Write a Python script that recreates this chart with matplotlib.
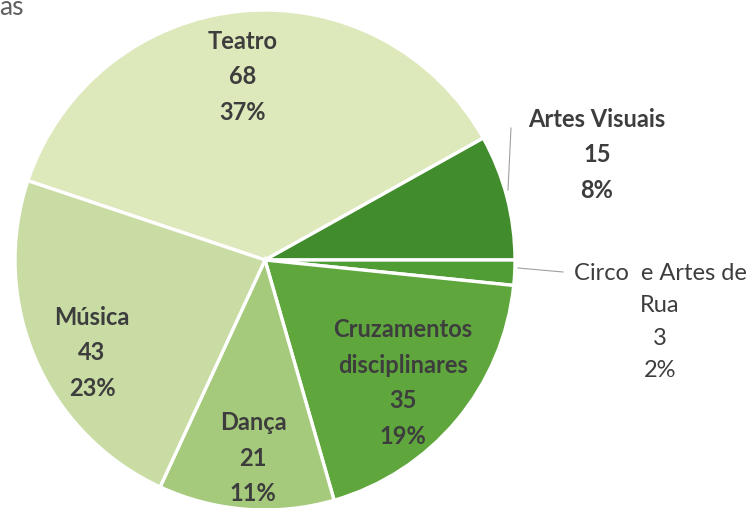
import matplotlib
matplotlib.use("Agg")
import matplotlib.pyplot as plt

categories = ["Teatro", "Artes Visuais", "Circo  e Artes de\nRua", "Cruzamentos\ndisciplinares", "Dança", "Música"]
values = [68, 15, 3, 35, 21, 43]
colors = ["#dde8bb", "#418c2c", "#509c35", "#5fa63d", "#a5ca7c", "#c8dca4"]

W, H = 754, 508
fig = plt.figure(figsize=(W / 100, H / 100), dpi=100)
ax = fig.add_axes([0, 0, 1, 1])

total = sum(values)
start = 360 * (values[0] + values[1]) / total
cx, cy, r = 265, 260, 250
ax.pie(values, colors=colors, startangle=start, counterclock=False,
       center=(cx, H - cy), radius=r,
       wedgeprops=dict(edgecolor="white", linewidth=2.4))
ax.set_xlim(0, W)
ax.set_ylim(0, H)
ax.set_aspect("equal")
ax.axis("off")

fam = ["Lato", "DejaVu Sans"]
txtc = "#3d3d3d"
# label block centre in pixels
label_pos = [(243, 77), (597, 155), (660, 322), (403, 383), (253, 458), (92, 353)]
weights = ["bold", "bold", "normal", "bold", "bold", "bold"]
for cat, v, (px, py), w in zip(categories, values, label_pos, weights):
    pct = round(v / total * 100)
    txt = f"{cat}\n{v}\n{pct}%"
    ax.text(px, H - py, txt, ha="center", va="center", fontsize=17, family=fam,
            color=txtc, fontweight=w, linespacing=1.68, multialignment="center")

# leader lines
ax.plot([511, 508], [H - 128, H - 190], color="#a0a0a0", lw=0.8)
ax.plot([518, 563], [H - 268, H - 272], color="#a0a0a0", lw=0.8)

# cut-off title fragment
ax.text(-1, H - 15, "as", ha="left", va="baseline", fontsize=19, family=fam,
        color="#606060")

fig.savefig("out.png", dpi=100)
